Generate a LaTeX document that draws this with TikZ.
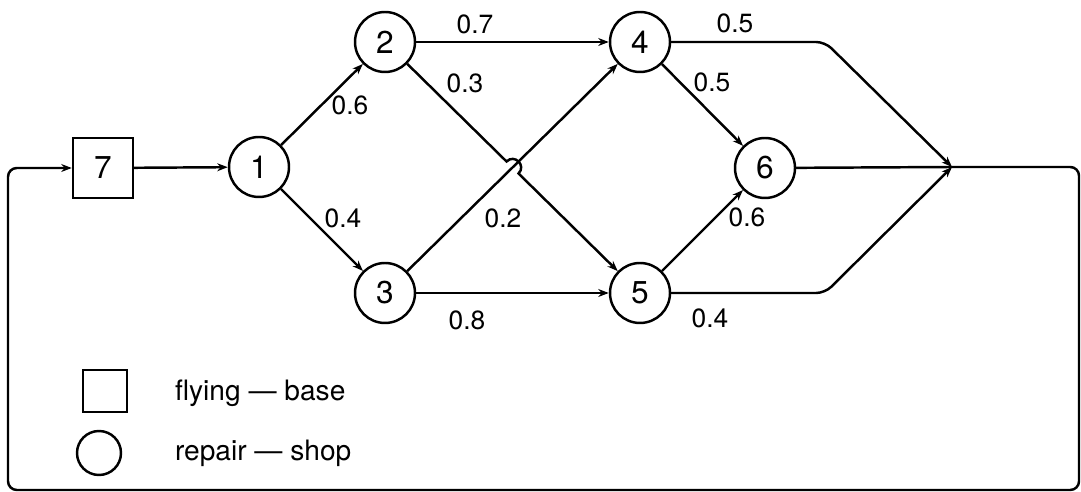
\documentclass[tikz,border=0pt]{standalone}
\usepackage{fontspec}
\setmainfont{TeX Gyre Heros}
\usetikzlibrary{arrows.meta,calc}

\begin{document}
\begin{tikzpicture}[x=0.02cm,y=-0.02cm,line width=1.4pt,
    >={Stealth[length=6pt,width=4.5pt]},
    shop/.style={draw,circle,minimum size=1.2cm,inner sep=0pt,font=\fontsize{18}{20}\selectfont},
    base/.style={draw,rectangle,minimum size=1.2cm,inner sep=0pt,font=\fontsize{18}{20}\selectfont},
    prob/.style={font=\fontsize{15}{17}\selectfont},
    legend/.style={font=\fontsize{16}{18}\selectfont,anchor=west}]
    \useasboundingbox (0,0) rectangle (1081,492);

    \node[base] (n7) at (103,168) {7};
    \node[shop] (n1) at (259,167) {1};
    \node[shop] (n2) at (385,42) {2};
    \node[shop] (n3) at (385,293) {3};
    \node[shop] (n4) at (640,42) {4};
    \node[shop] (n5) at (640,293) {5};
    \node[shop] (n6) at (765,168) {6};
    \coordinate (m) at (952,167);
    \coordinate (x) at (intersection of n2--n5 and n3--n4);

    \draw[->] (n7) -- (n1);
    \draw[->] (n1) -- (n2);
    \draw[->] (n1) -- (n3);
    \draw[->] (n2) -- (n4);
    \draw[->] (n3) -- (n5);
    \draw[->] (n3) -- (n4);
    % 2 -> 5 hops over 3 -> 4
    \draw[->] (n2) -- ($(x)+(-6,-6)$) .. controls ($(x)+(2,-14)$) and ($(x)+(14,-2)$) .. ($(x)+(6,6)$) -- (n5);
    \draw[->] (n4) -- (n6);
    \draw[->] (n5) -- (n6);
    \draw[->,rounded corners=5pt] (n4) -- (825,42) -- (m);
    \draw[->,rounded corners=5pt] (n5) -- (825,293) -- (m);
    \draw (n6) -- (m);
    \draw[->,rounded corners=5pt] (m) -- (1079,167) -- (1079,490) -- (8,490) -- (8,168) -- (n7);

    \node[prob] (w12) at (350,105) {0.6};
    \node[prob] (w13) at (343,218) {0.4};
    \node[prob] (w24) at (475,24) {0.7};
    \node[prob] (w25) at (465,83) {0.3};
    \node[prob] (w34) at (503,218) {0.2};
    \node[prob] (w35) at (467,320) {0.8};
    \node[prob] (w4m) at (735,23) {0.5};
    \node[prob] (w46) at (712,82) {0.5};
    \node[prob] (w56) at (747,217) {0.6};
    \node[prob] (w5m) at (710,318) {0.4};

    \node[draw,rectangle,minimum width=0.88cm,minimum height=0.84cm] (kbase) at (105,391) {};
    \node[draw,circle,minimum size=0.88cm] (kshop) at (99,453) {};
    \node[legend] (tbase) at (168,393) {flying — base};
    \node[legend] (tshop) at (168,453) {repair — shop};
\end{tikzpicture}
\end{document}
